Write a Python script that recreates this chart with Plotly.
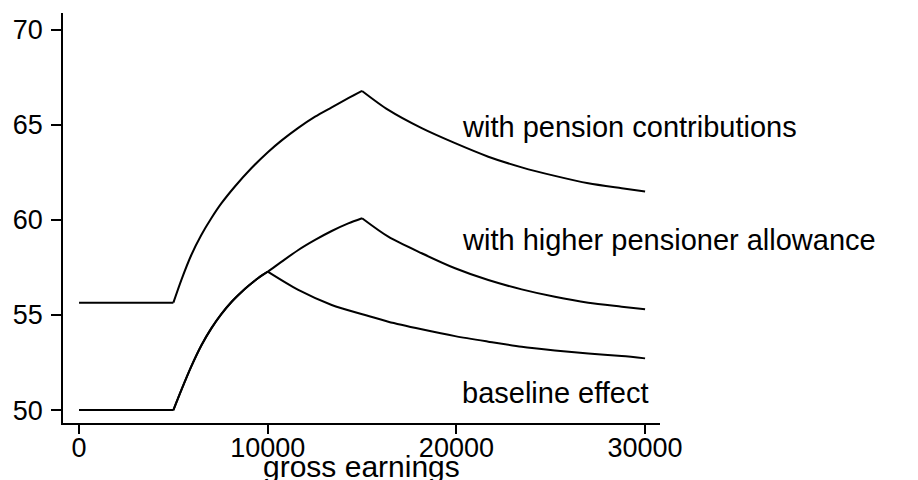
import plotly.graph_objects as go

# Values
pension_x = [0, 5000, 5420, 5950, 6480, 7010, 7540, 8250, 9130, 10020, 10740, 11620, 12510, 13390,
             14270, 15000, 16390, 18160, 19930, 21690, 23460, 25220, 26990, 28760, 30000]
pension_y = [55.65, 55.65, 56.84, 58.16, 59.21, 60.09, 60.87, 61.75, 62.72, 63.58, 64.19, 64.85, 65.44,
             65.93, 66.41, 66.79, 65.79, 64.83, 64.04, 63.33, 62.77, 62.32, 61.93, 61.67, 61.5]

allowance_x = [0, 5000, 5420, 5950, 6480, 7010, 7540, 8090, 8600, 9000, 9500, 10000, 10740, 11620,
               12510, 13390, 14270, 15000, 16390, 18160, 19930, 21690, 23460, 25220, 26990, 28760, 30000]
allowance_y = [50, 50, 51.05, 52.3, 53.4, 54.3, 55.05, 55.7, 56.2, 56.55, 56.95, 57.28, 57.81, 58.42,
               58.95, 59.42, 59.82, 60.09, 59.12, 58.25, 57.46, 56.84, 56.35, 55.96, 55.65, 55.44, 55.3]

baseline_x = [0, 5000, 5420, 5950, 6480, 7010, 7540, 8090, 8600, 9000, 9500, 10000, 11620, 13390,
              15160, 16390, 18160, 19930, 21690, 23460, 25220, 26990, 28760, 30000]
baseline_y = [50, 50, 51.05, 52.3, 53.4, 54.3, 55.05, 55.7, 56.2, 56.55, 56.95, 57.28, 56.32, 55.53,
              55.0, 54.65, 54.25, 53.89, 53.6, 53.33, 53.14, 52.98, 52.84, 52.72]

# earnings where each schedule has a kink
pension_kinks = [5000, 15000]
allowance_kinks = [5000, 15000]
baseline_kinks = [5000, 10000]

# Text labels placed next to the curves
label_text = ["with pension contributions", "with higher pensioner allowance", "baseline effect"]
label_x = [20190, 20190, 20190]
label_y = [64.9, 58.95, 50.9]

x_ticks = [0, 10000, 20000, 30000]
y_ticks = [50, 55, 60, 65, 70]
x_title = "gross earnings"

font_name = "Liberation Sans, Arial, sans-serif"


def split_at(xs, ys, kinks):
    # cut a curve into smooth pieces that share their kink points
    pieces = []
    cur_x, cur_y = [], []
    for x, y in zip(xs, ys):
        cur_x.append(x)
        cur_y.append(y)
        if x in kinks:
            pieces.append((cur_x, cur_y))
            cur_x, cur_y = [x], [y]
    if len(cur_x) > 1:
        pieces.append((cur_x, cur_y))
    return pieces


fig = go.Figure()

for xs, ys, kinks in [(pension_x, pension_y, pension_kinks),
                      (allowance_x, allowance_y, allowance_kinks),
                      (baseline_x, baseline_y, baseline_kinks)]:
    for px, py in split_at(xs, ys, kinks):
        fig.add_trace(go.Scatter(
            x=px, y=py, mode="lines",
            line=dict(color="black", width=2, shape="spline", smoothing=0.8),
            hoverinfo="skip",
        ))

for txt, lx, ly in zip(label_text, label_x, label_y):
    fig.add_annotation(
        x=lx, y=ly, text=txt, showarrow=False,
        xanchor="left", yanchor="middle",
        font=dict(family=font_name, size=29, color="black"),
    )

# axis title as an annotation so it can sit low, partly off the page like the original
fig.add_annotation(
    x=0.5, y=-0.106, xref="paper", yref="paper", text=x_title, showarrow=False,
    xanchor="center", yanchor="middle",
    font=dict(family=font_name, size=30, color="black"),
)

# page body has an 8px margin, so the figure is sized to fit the window
fig.update_layout(
    width=910, height=472,
    margin=dict(l=55, r=258, t=5, b=57),
    paper_bgcolor="white", plot_bgcolor="white",
    showlegend=False,
    font=dict(family=font_name, color="black"),
)

fig.update_xaxes(
    range=[-850, 30790],
    tickvals=x_ticks, ticktext=[str(v) for v in x_ticks],
    showgrid=False, zeroline=False,
    showline=True, linecolor="black", linewidth=1.5,
    ticks="outside", ticklen=9, tickwidth=1.5, tickcolor="black",
    tickfont=dict(size=27), ticklabelstandoff=-9,
    automargin=False,
)

fig.update_yaxes(
    range=[49.32, 70.89],
    tickvals=y_ticks,
    showgrid=False, zeroline=False,
    showline=True, linecolor="black", linewidth=1.5,
    ticks="outside", ticklen=10, tickwidth=1.5, tickcolor="black",
    tickfont=dict(size=27), ticklabelstandoff=3,
    automargin=False,
)

fig.write_html("out.html")
